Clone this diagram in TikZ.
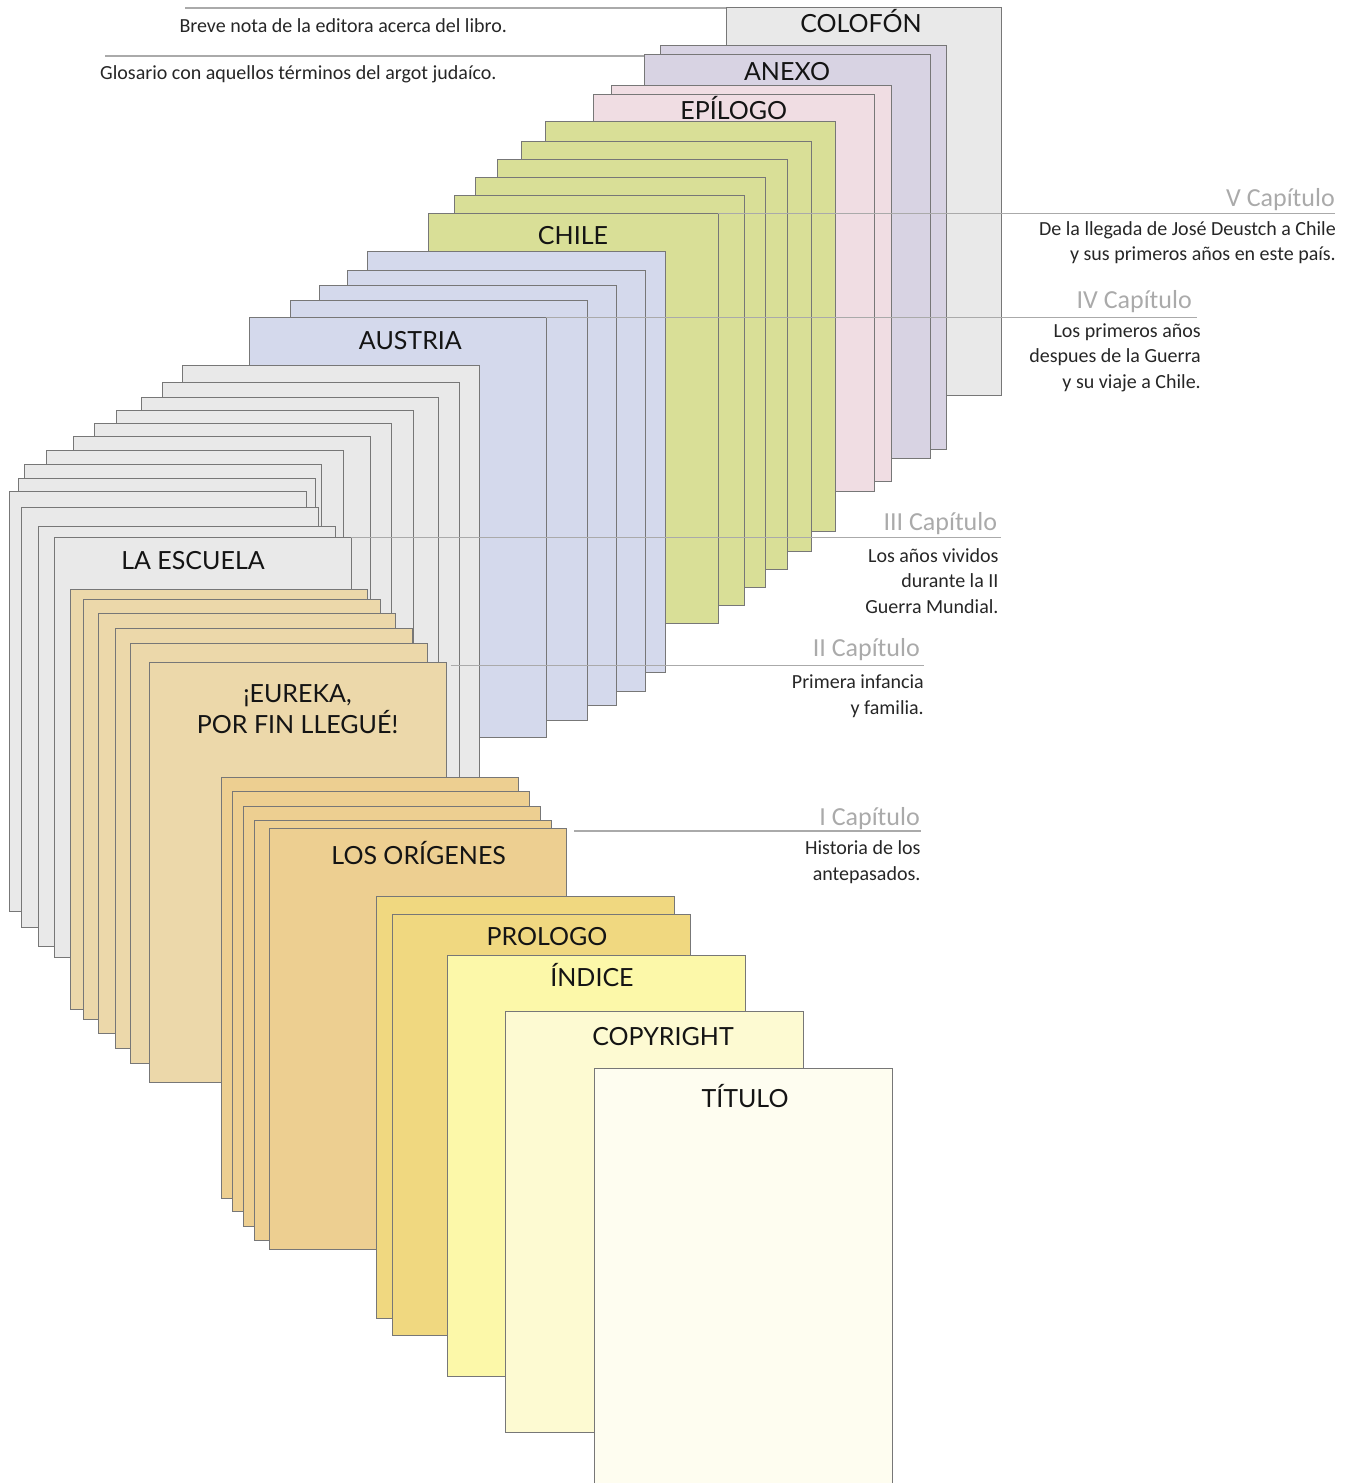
\documentclass[tikz,border=0pt]{standalone}
\usepackage{fontspec}
\usepackage{xcolor}
\newfontfamily\titlefont{Lato}
\newfontfamily\notefont{Carlito}
\definecolor{pageline}{HTML}{777777}
\definecolor{guiagris}{HTML}{AAAAAA}
\definecolor{colofongris}{HTML}{E9E9E9}
\definecolor{anexolila}{HTML}{D8D3E3}
\definecolor{epilogorosa}{HTML}{F0DDE3}
\definecolor{chileverde}{HTML}{D9DF97}
\definecolor{austriaazul}{HTML}{D4D9EC}
\definecolor{escuelagris}{HTML}{E9E9E9}
\definecolor{eurekaocre}{HTML}{ECD8AA}
\definecolor{origenesocre}{HTML}{EDCF91}
\definecolor{prologoamarillo}{HTML}{F0D880}
\definecolor{indiceamarillo}{HTML}{FCF8A9}
\definecolor{copyrightcrema}{HTML}{FDFAD2}
\definecolor{titulocrema}{HTML}{FEFDF0}

\begin{document}
\begin{tikzpicture}[x=1pt, y=-1pt,
    hoja/.style={draw=pageline, line width=0.9pt, inner sep=0pt, outer sep=0pt,
                 anchor=north west, minimum width=#1, minimum height=1.414*#1},
    titulo/.style={font=\titlefont\fontsize{25pt}{31.3pt}\selectfont,
                   inner sep=0pt, anchor=base, align=center, text=black!92},
    capitulo/.style={font=\notefont\fontsize{26pt}{30pt}\selectfont,
                     text=guiagris, inner sep=0pt, anchor=base east},
    nota/.style={font=\notefont\fontsize{20pt}{25.8pt}\selectfont,
                 text=black!85, inner sep=0pt, align=right, anchor=base east},
    guia/.style={draw=guiagris, line width=1.2pt}
  ]
  \useasboundingbox (0,0) rectangle (1355,1483);
  \clip (0,0) rectangle (1355,1483);

  % anexos y epilogo
  \node[hoja=275pt, fill=colofongris] (colofon) at (726,7) {};
  \node[titulo] (tcolofon) at (861,32.3) {COLOFÓN};
  \node[hoja=286pt, fill=anexolila] (lila1) at (660.7,45) {};
  \node[hoja=286pt, fill=anexolila] (anexo) at (644,54) {};
  \node[titulo] (tanexo) at (787,80) {ANEXO};
  \node[hoja=280pt, fill=epilogorosa] (rosa1) at (611.7,85.7) {};
  \node[hoja=281pt, fill=epilogorosa] (epilogo) at (593.3,94) {};
  \node[titulo] (tepilogo) at (733.7,119) {EPÍLOGO};

  % V capitulo
  \foreach \x/\y [count=\i] in {545.3/121.3, 521.5/141.3, 497.3/159.5, 475.7/177, 454.7/195}
    \node[hoja=290pt, fill=chileverde] (verde\i) at (\x,\y) {};
  \node[hoja=290pt, fill=chileverde] (chile) at (428.3,213.3) {};
  \node[titulo] (tchile) at (573,244) {CHILE};

  % IV capitulo
  \foreach \x/\y [count=\i] in {367.7/251.7, 347.7/270.3, 319.3/285, 290.3/300}
    \node[hoja=297.5pt, fill=austriaazul] (azul\i) at (\x,\y) {};
  \node[hoja=297pt, fill=austriaazul] (austria) at (249,317.3) {};
  \node[titulo] (taustria) at (410.4,349.3) {AUSTRIA};

  % III capitulo
  \foreach \x/\y [count=\i] in {182.3/365.5, 162.3/382.7, 141.3/397.5, 116.7/410.7,
      94.3/423.3, 73.3/436.7, 46.3/450.3, 24/464, 18.3/478.3, 9.7/491.7, 21/507.7, 38.3/526}
    \node[hoja=297pt, fill=escuelagris] (gris\i) at (\x,\y) {};
  \node[hoja=297pt, fill=escuelagris] (escuela) at (54.3,537.3) {};
  \node[titulo] (tescuela) at (193,569.7) {LA ESCUELA};

  % II capitulo
  \foreach \x/\y [count=\i] in {70.3/589, 83/599.3, 98.7/613, 115.7/628.3, 130/643.3}
    \node[hoja=297pt, fill=eurekaocre] (ocre\i) at (\x,\y) {};
  \node[hoja=297.3pt, fill=eurekaocre] (eureka) at (149.3,662.3) {};
  \node[titulo] (teureka) at (297.5,733.3) {¡EUREKA,\\POR FIN LLEGUÉ!};

  % I capitulo
  \foreach \x/\y [count=\i] in {221.3/777.7, 232.3/791, 243.3/806.3, 254.3/820}
    \node[hoja=297.3pt, fill=origenesocre] (origen\i) at (\x,\y) {};
  \node[hoja=297.3pt, fill=origenesocre] (origenes) at (269,828.7) {};
  \node[titulo] (torigenes) at (418.7,864.3) {LOS ORÍGENES};

  % preliminares
  \node[hoja=298pt, fill=prologoamarillo] (amarillo1) at (376.5,896.7) {};
  \node[hoja=298pt, fill=prologoamarillo] (prologo) at (392.3,914.3) {};
  \node[titulo] (tprologo) at (547,945) {PROLOGO};
  \node[hoja=297.5pt, fill=indiceamarillo] (indice) at (447.6,955.7) {};
  \node[titulo] (tindice) at (592,986.7) {ÍNDICE};
  \node[hoja=297.5pt, fill=copyrightcrema] (copyright) at (505.5,1011.7) {};
  \node[titulo] (tcopyright) at (663,1045.7) {COPYRIGHT};
  \node[hoja=297.5pt, fill=titulocrema] (titulo) at (594.5,1068.3) {};
  \node[titulo] (ttitulo) at (745,1107.7) {TÍTULO};

  % notas
  \node[nota, anchor=base west] (breve) at (179.3,32) {Breve nota de la editora acerca del libro.};
  \node[nota, anchor=base west] (glosario) at (100,79) {Glosario con aquellos términos del argot judaíco.};
  \coordinate (breveinicio) at (185,8);
  \coordinate (glosarioinicio) at (105,56);
  \draw[guia] (breveinicio) -- (breveinicio -| colofon.west);
  \draw[guia] (glosarioinicio) -- (glosarioinicio -| anexo.west);

  \node[capitulo] (capV) at (1335,206.7) {V Capítulo};
  \node[nota] (notaV) at (1336,260.8) {De la llegada de José Deustch a Chile\\y sus primeros años en este país.};
  \draw[guia] (chile.north east) -- (chile.north east -| capV.east);

  \node[capitulo] (capIV) at (1192,308.3) {IV Capítulo};
  \node[nota] (notaIV) at (1201,388.6) {Los primeros años\\despues de la Guerra\\y su viaje a Chile.};
  \coordinate (guiaIV) at ([xshift=5pt]capIV.east);
  \draw[guia] (austria.north east) -- (austria.north east -| guiaIV);

  \node[capitulo] (capIII) at (997.3,530) {III Capítulo};
  \node[nota] (notaIII) at (998.7,613.6) {Los años vividos\\durante la II\\Guerra Mundial.};
  \coordinate (guiaIII) at ([xshift=4pt]capIII.east);
  \draw[guia] (escuela.north east) -- (escuela.north east -| guiaIII);

  \node[capitulo] (capII) at (920,656.7) {II Capítulo};
  \node[nota] (notaII) at (924,714.1) {Primera infancia\\y familia.};
  \coordinate (guiaII) at ([shift={(4,3)}]eureka.north east);
  \draw[guia] (guiaII) -- (guiaII -| notaII.east);

  \node[capitulo] (capI) at (920,825) {I Capítulo};
  \node[nota] (notaI) at (920.7,880.1) {Historia de los\\antepasados.};
  \coordinate (guiaI) at ([shift={(8,2.3)}]origenes.north east);
  \draw[guia] (guiaI) -- (guiaI -| notaI.east);
\end{tikzpicture}
\end{document}
